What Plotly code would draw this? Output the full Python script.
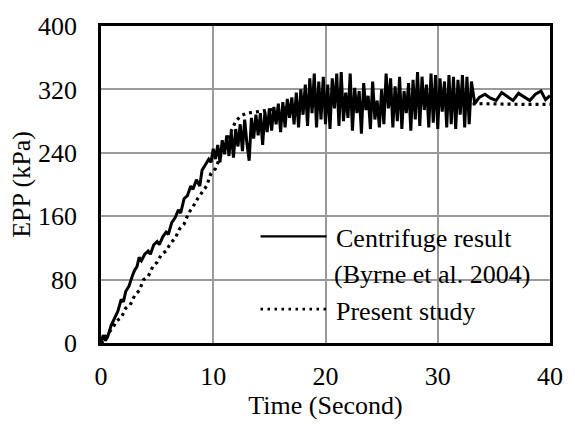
import plotly.graph_objects as go

# ---- Data ----
centrifuge_t = [
    0.0, 0.2, 0.4, 0.6, 0.9, 1.2, 1.5, 1.8, 2.0, 2.2, 2.5, 2.8, 3.0, 3.2, 3.4, 3.6, 3.9,
    4.2, 4.4, 4.7, 5.0, 5.2, 5.5, 5.8, 6.0, 6.3, 6.6, 6.9, 7.1, 7.4, 7.7, 8.0, 8.2, 8.5,
    8.8, 9.0, 9.3, 9.6, 9.8, 10.0,
    10.2, 10.4, 10.6, 10.8, 11.0, 11.2, 11.4, 11.6, 11.8, 12.0,
    12.2, 12.4, 12.6, 12.8, 13.0, 13.2, 13.4, 13.6, 13.8, 14.0,
    14.2, 14.4, 14.6, 14.8, 15.0, 15.2, 15.4, 15.6, 15.8, 16.0,
    16.2, 16.4, 16.6, 16.8, 17.0, 17.2, 17.4, 17.6, 17.8, 18.0,
    18.2, 18.4, 18.6, 18.8, 19.0, 19.2, 19.4, 19.6, 19.8, 20.0,
    20.2, 20.4, 20.6, 20.8, 21.0, 21.2, 21.4, 21.6, 21.8, 22.0,
    22.2, 22.4, 22.6, 22.8, 23.0, 23.2, 23.4, 23.6, 23.8, 24.0,
    24.2, 24.4, 24.6, 24.8, 25.0, 25.2, 25.4, 25.6, 25.8, 26.0,
    26.2, 26.4, 26.6, 26.8, 27.0, 27.2, 27.4, 27.6, 27.8, 28.0,
    28.2, 28.4, 28.6, 28.8, 29.0, 29.2, 29.4, 29.6, 29.8, 30.0,
    30.2, 30.4, 30.6, 30.8, 31.0, 31.2, 31.4, 31.6, 31.8, 32.0,
    32.2, 32.4, 32.6, 32.8, 33.0, 33.3,
    33.7, 34.2, 34.7, 35.2, 35.7, 36.2, 36.7, 37.2, 37.7, 38.2, 38.7, 39.2, 39.6, 40.0,
]
centrifuge_epp = [
    0, 10, 3, 8, 22, 30, 40, 55, 52, 65, 72, 85, 92, 96, 108, 104, 112,
    116, 112, 124, 128, 124, 134, 140, 137, 152, 158, 168, 164, 182, 186, 198, 194, 206,
    198, 218, 225, 232, 228, 245,
    232, 250, 228, 256, 238, 262, 236, 266, 234, 270,
    248, 276, 242, 282, 252, 230, 284, 258, 288, 262,
    290, 250, 292, 266, 296, 268, 298, 276, 302, 266,
    304, 272, 308, 284, 310, 276, 316, 272, 320, 288,
    326, 274, 334, 290, 340, 272, 330, 282, 336, 276,
    326, 270, 334, 296, 340, 274, 342, 280, 316, 284,
    340, 268, 322, 290, 318, 264, 328, 294, 312, 270,
    330, 282, 306, 272, 320, 276, 340, 296, 334, 272,
    324, 280, 336, 270, 318, 290, 328, 268, 332, 282,
    342, 274, 336, 294, 326, 272, 340, 278, 338, 270,
    334, 292, 330, 272, 338, 276, 336, 270, 332, 288,
    338, 272, 336, 276, 330, 302,
    310, 314, 309, 306, 316, 311, 306, 315, 310, 306, 314, 318, 307, 312,
]

present_t = [
    0.0, 0.3, 0.6, 1.0, 1.4, 1.8, 2.2, 2.6, 3.0, 3.4, 3.8, 4.2, 4.6, 5.0, 5.4, 5.8,
    6.2, 6.6, 7.0, 7.4, 7.8, 8.2, 8.6, 9.0, 9.4, 9.8, 10.2, 10.6, 11.0, 11.5, 12.0,
    12.5, 13.0, 13.5, 14.0, 14.5, 15.0, 16.0, 17.0, 18.0, 19.0, 20.0, 22.0, 24.0,
    26.0, 28.0, 30.0, 32.0, 34.0, 36.0, 38.0, 40.0,
]
present_epp = [
    0, 4, 12, 18, 28, 32, 44, 48, 60, 66, 80, 84, 96, 102, 112, 116,
    126, 132, 144, 150, 164, 172, 182, 190, 198, 214, 220, 234, 246, 264, 280,
    287, 290, 291, 292, 293, 295, 297, 298, 299, 300, 300, 301, 301,
    300, 301, 301, 301, 302, 301, 301, 301,
]

x_ticks = [0, 10, 20, 30, 40]
y_ticks = [0, 80, 160, 240, 320, 400]
series_names = ["Centrifuge result", "(Byrne et al. 2004)", "Present study"]
x_title = "Time (Second)"
y_title = "EPP (kPa)"

FONT = "Liberation Serif, Times New Roman, serif"
W, H = 575, 426
L, R, T, B = 101, 18, 25, 83
pw, ph = W - L - R, H - T - B


def px_x(p):
    return (p - L) / pw


def px_y(p):
    return (H - B - p) / ph


fig = go.Figure()
fig.add_trace(go.Scatter(
    x=centrifuge_t, y=centrifuge_epp, mode="lines",
    line=dict(color="black", width=3), showlegend=False,
))
fig.add_trace(go.Scatter(
    x=present_t, y=present_epp, mode="lines",
    line=dict(color="black", width=3.2, dash="3px,4px"), showlegend=False,
))

# Manual legend (transparent, as in the reference)
shapes = [
    dict(type="line", xref="paper", yref="paper",
         x0=px_x(263), x1=px_x(330), y0=px_y(236), y1=px_y(236),
         line=dict(color="black", width=2.2)),
    dict(type="line", xref="paper", yref="paper",
         x0=px_x(263), x1=px_x(330), y0=px_y(309), y1=px_y(309),
         line=dict(color="black", width=2.8, dash="2.5px,4.5px")),
]
annotations = [
    dict(text=series_names[0], xref="paper", yref="paper", x=px_x(338), y=px_y(238),
         xanchor="left", yanchor="middle", showarrow=False,
         font=dict(family=FONT, size=26, color="black")),
    dict(text=series_names[1], xref="paper", yref="paper", x=px_x(336), y=px_y(274),
         xanchor="left", yanchor="middle", showarrow=False,
         font=dict(family=FONT, size=26, color="black")),
    dict(text=series_names[2], xref="paper", yref="paper", x=px_x(338), y=px_y(311),
         xanchor="left", yanchor="middle", showarrow=False,
         font=dict(family=FONT, size=26, color="black")),
]

axis_common = dict(
    showgrid=True, gridcolor="#9a9a9a", gridwidth=1.6,
    showline=True, linecolor="black", linewidth=2.6, mirror=True,
    ticks="", zeroline=False,
    tickfont=dict(family=FONT, size=26, color="black"),
)

fig.update_layout(
    width=W, height=H,
    margin=dict(l=L, r=R, t=T, b=B),
    paper_bgcolor="white", plot_bgcolor="white",
    shapes=shapes, annotations=annotations,
    xaxis=dict(range=[0, 40], tickvals=x_ticks, ticklabelstandoff=8,
               title=dict(text=x_title, font=dict(family=FONT, size=26, color="black"), standoff=2),
               **axis_common),
    yaxis=dict(range=[0, 400], tickvals=y_ticks, ticklabelstandoff=16,
               title=dict(text=y_title, font=dict(family=FONT, size=26, color="black"), standoff=0),
               **axis_common),
    showlegend=False,
)

fig.write_html("out.html")
